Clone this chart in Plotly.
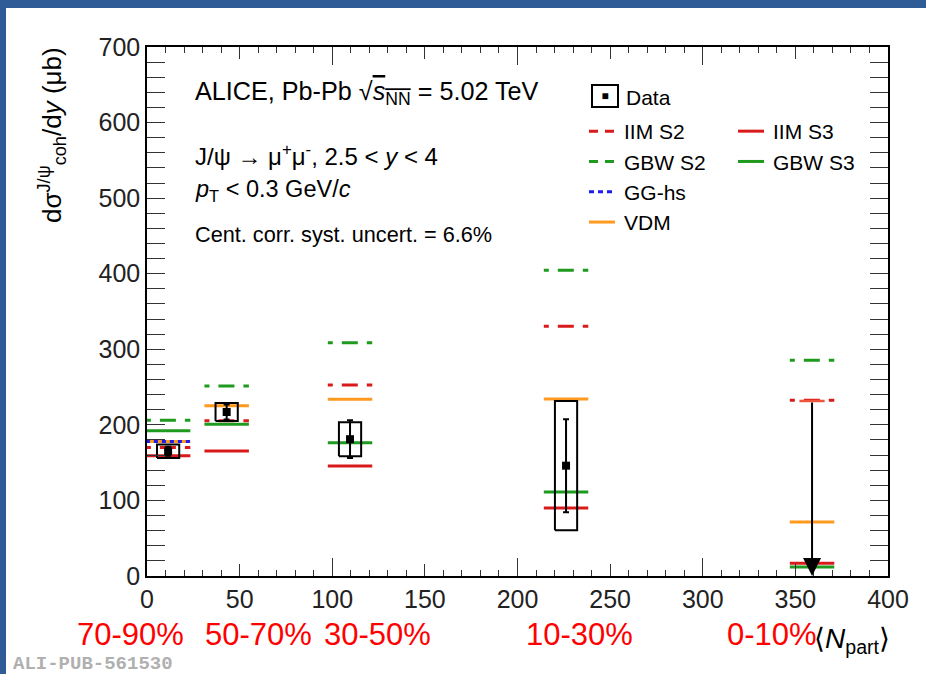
import plotly.graph_objects as go

# ---------------------------------------------------------------- data
centrality = ["70-90%", "50-70%", "30-50%", "10-30%", "0-10%"]
npart = [11.4, 43.0, 109.6, 226.2, 359.0]

# measured coherent J/psi cross section (microbarn), four peripheral classes
data_x = [11.4, 43.0, 109.6, 226.2]
data_y = [165.0, 217.0, 181.0, 146.0]
data_stat = [6.0, 10.0, 25.0, 61.5]
data_syst = [9.0, 12.0, 22.5, 85.5]

# upper limit for the most central class
ul_x = [359.0]
ul_y = [231.6]

# model predictions per centrality class (None = not computed)
iim_s2 = [170.0, 205.5, 252.7, 330.4, 232.5]
iim_s3 = [159.0, 165.4, 145.6, 90.0, 16.8]
gbw_s2 = [206.0, 251.4, 308.7, 404.5, 285.4]
gbw_s3 = [192.3, 200.7, 176.4, 111.2, 11.9]
gg_hs = [178.0, None, None, None, None]
vdm = [178.0, 225.4, 233.8, 234.2, 71.5]

x_ticks = [0, 50, 100, 150, 200, 250, 300, 350, 400]
y_ticks = [0, 100, 200, 300, 400, 500, 600, 700]

# ---------------------------------------------------------------- style
W, H = 926, 674
PL, PR, PT, PB = 147, 888, 47, 576          # frame edges in pixels
SEG_HW = 12.0                               # half width of model segments
BOX_HW = 6.0                                # half width of syst. boxes
FONT = "Liberation Sans, Arial, sans-serif"

RED = "#d91a1a"
GREEN = "#1e9a1e"
BLUE = "#1c1cf0"
ORANGE = "#ff9a1e"

S2_DASH = "5px,9px,16px,9px,20px"


def fx(p):
    return (p - PL) / (PR - PL)


def fy(p):
    return (PB - p) / (PB - PT)


fig = go.Figure()

models = [
    ("VDM", vdm, ORANGE, "solid"),
    ("IIM S2", iim_s2, RED, S2_DASH),
    ("IIM S3", iim_s3, RED, "solid"),
    ("GBW S2", gbw_s2, GREEN, S2_DASH),
    ("GBW S3", gbw_s3, GREEN, "solid"),
    ("GG-hs", gg_hs, BLUE, "4px,4px"),
]

# one short horizontal segment per centrality class and model
for name, vals, col, dash in models:
    for xc, v in zip(npart, vals):
        if v is None:
            continue
        fig.add_trace(go.Scatter(
            x=[xc - SEG_HW, xc + SEG_HW], y=[v, v], mode="lines",
            line=dict(color=col, width=3, dash=dash),
            showlegend=False, hoverinfo="skip", cliponaxis=True))

# systematic uncertainty boxes
for xc, yc, s in zip(data_x, data_y, data_syst):
    fig.add_trace(go.Scatter(
        x=[xc - BOX_HW, xc + BOX_HW, xc + BOX_HW, xc - BOX_HW, xc - BOX_HW],
        y=[yc - s, yc - s, yc + s, yc + s, yc - s], mode="lines",
        line=dict(color="black", width=2), showlegend=False, hoverinfo="skip"))

# data points with statistical uncertainties
fig.add_trace(go.Scatter(
    x=data_x, y=data_y, mode="markers",
    marker=dict(symbol="square", size=8, color="black"),
    error_y=dict(type="data", array=data_stat, color="black",
                 thickness=2, width=3),
    showlegend=False))

# upper limit: cap at the limit, arrow down to zero
fig.add_trace(go.Scatter(
    x=ul_x, y=ul_y, mode="markers",
    marker=dict(symbol="line-ew-open", size=18,
                line=dict(color="black", width=2.5)),
    showlegend=False, hoverinfo="skip"))
for xa, ya in zip(ul_x, ul_y):
    fig.add_annotation(x=xa, y=0, ax=xa, ay=ya, xref="x", yref="y",
                       axref="x", ayref="y", text="", showarrow=True,
                       arrowhead=2, arrowsize=1.8, arrowwidth=2,
                       arrowcolor="black", standoff=0)

# legend keys (entries without data)
legend_items = [
    ("IIM S2", RED, "9px,7px,9px,40px", "legend"),
    ("GBW S2", GREEN, "9px,7px,9px,40px", "legend"),
    ("GG-hs", BLUE, "5px,4px,5px,4px,5px,40px", "legend"),
    ("VDM", ORANGE, "26px,40px", "legend"),
    ("IIM S3", RED, "26px,40px", "legend2"),
    ("GBW S3", GREEN, "26px,40px", "legend2"),
]
for name, col, dash, lg in legend_items:
    fig.add_trace(go.Scatter(
        x=[None], y=[None], mode="lines", name=name,
        line=dict(color=col, width=3, dash=dash), legend=lg))

# empty trace so the long-tick overlay axis is drawn
fig.add_trace(go.Scatter(x=[None], y=[None], xaxis="x2", showlegend=False))

axis_common = dict(showgrid=False, zeroline=False, showline=True,
                   linecolor="black", linewidth=1.5, mirror="allticks",
                   ticks="inside", tickcolor="#333", tickwidth=1.2,
                   tickfont=dict(family=FONT, size=25, color="#222"))

fig.update_layout(
    width=W, height=H,
    margin=dict(l=PL, r=W - PR, t=PT, b=H - PB),
    paper_bgcolor="white", plot_bgcolor="white",
    font=dict(family=FONT, color="black"),
    xaxis=dict(range=[0, 400], tickvals=x_ticks, ticklen=12,
               minor=dict(dtick=10, tick0=0, ticks="inside", ticklen=6,
                          tickcolor="#333", tickwidth=1),
               **axis_common),
    xaxis2=dict(range=[0, 400], overlaying="x", anchor="y", side="bottom",
                tickvals=[0, 100, 200, 300, 400], ticks="inside",
                ticklen=18, tickcolor="#333", tickwidth=1.2,
                showticklabels=False, showgrid=False, zeroline=False,
                showline=False, mirror="allticks"),
    yaxis=dict(range=[0, 700], tickvals=y_ticks, ticklen=18,
               minor=dict(dtick=20, tick0=0, ticks="inside", ticklen=9,
                          tickcolor="#333", tickwidth=1),
               **axis_common),
    legend=dict(x=fx(584), y=fy(111), xanchor="left", yanchor="top",
                bgcolor="rgba(0,0,0,0)", borderwidth=0,
                font=dict(family=FONT, size=21, color="black"),
                tracegroupgap=0),
    legend2=dict(x=fx(733), y=fy(111), xanchor="left", yanchor="top",
                 bgcolor="rgba(0,0,0,0)", borderwidth=0,
                 font=dict(family=FONT, size=21, color="black"),
                 tracegroupgap=0),
    showlegend=True,
)

# "Data" legend entry: framed filled square
fig.add_annotation(x=fx(605), y=fy(96), xref="paper", yref="paper",
                   text="■", showarrow=False, font=dict(size=12, color="black"),
                   width=24, height=20, borderpad=0,
                   bordercolor="black", borderwidth=2,
                   xanchor="center", yanchor="middle")
fig.add_annotation(x=fx(624), y=fy(97), xref="paper", yref="paper",
                   text="Data", showarrow=False,
                   font=dict(family=FONT, size=21, color="black"),
                   xanchor="left", yanchor="middle")

# physics labels
info = [
    ("ALICE, Pb-Pb √<span style='text-decoration:overline'><i>s</i>"
     "<sub>NN</sub></span> = 5.02 TeV", 93, 25.2),
    ("J/ψ → μ<sup>+</sup>μ<sup>-</sup>, 2.5 &lt; <i>y</i> &lt; 4", 155, 24),
    ("<i>p</i><sub>T</sub> &lt; 0.3 GeV/<i>c</i>", 190, 23.5),
    ("Cent. corr. syst. uncert. = 6.6%", 234, 21.7),
]
for txt, yp, fs in info:
    fig.add_annotation(x=fx(193), y=fy(yp), xref="paper", yref="paper",
                       text=txt, showarrow=False, xanchor="left",
                       yanchor="middle",
                       font=dict(family=FONT, size=fs, color="black"))

# axis titles
fig.add_annotation(x=fx(52), y=fy(45), xref="paper", yref="paper",
                   text="dσ<sup>J/ψ</sup><sub>coh</sub>/d<i>y</i> (μb)",
                   textangle=-90, showarrow=False, xanchor="center",
                   yanchor="top", font=dict(family=FONT, size=26, color="black"))
fig.add_annotation(x=fx(892), y=fy(640), xref="paper", yref="paper",
                   text="⟨<i>N</i><sub>part</sub>⟩", showarrow=False,
                   xanchor="right", yanchor="middle",
                   font=dict(family=FONT, size=28, color="black"))

# centrality class labels under the axis
label_px = [130.5, 258, 377, 579, 772]
for lab, xp in zip(centrality, label_px):
    fig.add_annotation(x=fx(xp), y=fy(634), xref="paper", yref="paper",
                       text=lab, showarrow=False, xanchor="center",
                       yanchor="middle",
                       font=dict(family=FONT, size=31, color="#ff0000"))

# figure id
fig.add_annotation(x=fx(11), y=fy(664), xref="paper", yref="paper",
                   text="<b>ALI-PUB-561530</b>", showarrow=False,
                   xanchor="left", yanchor="middle",
                   font=dict(family="Liberation Mono, Courier New, monospace",
                             size=19, color="#b0b0b0"))

# slide border
BORDER = "#2f5c97"
fig.add_shape(type="rect", xref="paper", yref="paper", layer="above",
              x0=fx(0), x1=fx(6), y0=fy(H), y1=fy(0),
              fillcolor=BORDER, line=dict(width=0))
fig.add_shape(type="rect", xref="paper", yref="paper", layer="above",
              x0=fx(0), x1=fx(W), y0=fy(8), y1=fy(0),
              fillcolor=BORDER, line=dict(width=0))

fig.write_html("out.html")
